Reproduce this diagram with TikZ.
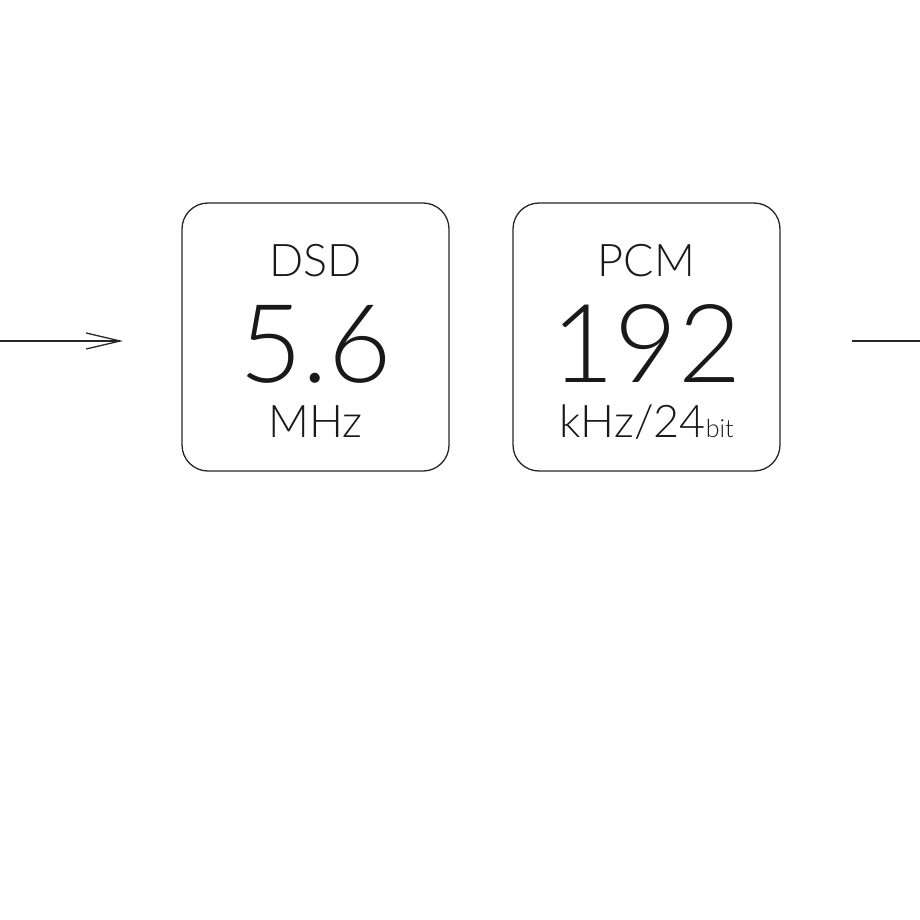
\documentclass[tikz,border=0pt]{standalone}
\usepackage{fontspec}
\newfontfamily\thin{Lato}[UprightFont={* Light}]
\usetikzlibrary{arrows.meta}
\tikzset{
  box/.style={draw=black!85, line width=1.3pt, rounded corners=26pt, minimum width=267pt, minimum height=268pt, inner sep=0pt},
  lbl/.style={anchor=base, inner sep=0pt, font=\thin, text=black!90},
  wire/.style={draw=black!85, line width=1.3pt}
}
\begin{document}
\begin{tikzpicture}[x=1pt,y=-1pt]
\useasboundingbox (0,0) rectangle (920,920);
\node[box] (b1) at (315.5,337) {};
\node[box] (b2) at (646.5,337) {};
\node[lbl, font=\thin\fontsize{45}{45}\selectfont] (t1) at (315.5,276) {DSD};
\node[lbl, font=\thin\fontsize{109}{109}\selectfont] (n1) at (315.5,382) {5.6};
\node[lbl, font=\thin\fontsize{45}{45}\selectfont] (u1) at (315.5,437) {MHz};
\node[lbl, font=\thin\fontsize{45}{45}\selectfont] (t2) at (646.5,276) {PCM};
\node[lbl, font=\thin\fontsize{109}{109}\selectfont] (n2) at (646.5,382) {192};
\node[lbl, font=\thin\fontsize{45}{45}\selectfont] (u2) at (646.5,437) {kHz/24{\fontsize{25}{25}\selectfont bit}};
\coordinate (inA) at (0,341);
\coordinate (inB) at (123,341);
\coordinate (outA) at (852,341);
\coordinate (outB) at (920,341);
\draw[wire, -{Straight Barb[length=34pt, width=16pt, line width=1.3pt]}] (inA) -- (inB);
\draw[wire] (outA) -- (outB);
\end{tikzpicture}
\end{document}
